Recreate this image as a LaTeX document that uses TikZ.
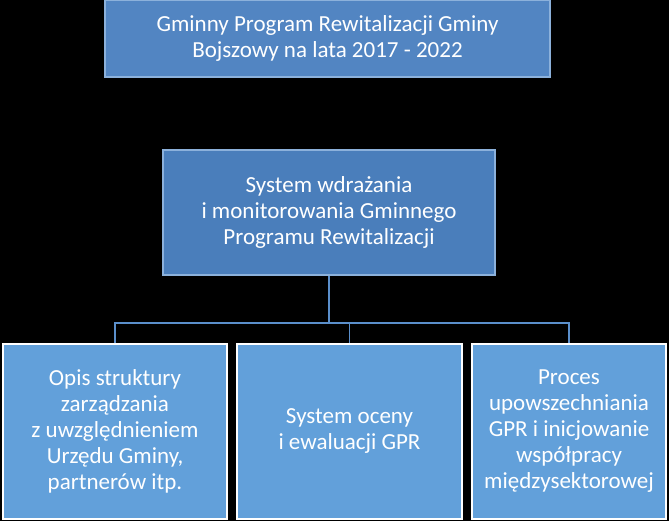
\documentclass[tikz,border=0pt]{standalone}
\usepackage{fontspec}
\setmainfont{Carlito}
\definecolor{topc}{HTML}{5285C2}
\definecolor{midc}{HTML}{4A7EBB}
\definecolor{botc}{HTML}{62A0DA}
\definecolor{linec}{HTML}{5B8FCB}
\newcommand{\bigf}{\fontsize{23bp}{26bp}\selectfont}
\begin{document}
\begin{tikzpicture}[x=1bp,y=-1bp,
  box/.style={draw, line width=1.5bp, text=white, align=center, font=\bigf, inner sep=0pt},
  conn/.style={draw=linec, line width=1.5bp}]
\fill[black] (0,0) rectangle (669,521);
\useasboundingbox (0,0) rectangle (669,521);
\node[box, fill=topc, draw=linec!70!white, minimum width=445bp, minimum height=77bp] (a) at (327.5,38.5) {\bigf Gminny Program Rewitalizacji Gminy\\\bigf Bojszowy na lata 2017 - 2022};
\node[box, fill=midc, draw=linec!70!white, minimum width=332bp, minimum height=125bp] (b) at (329,212.5) {\bigf System wdrażania\\\bigf i monitorowania Gminnego\\\bigf Programu Rewitalizacji};
\node[box, fill=botc, draw=white, minimum width=224bp, minimum height=175bp] (c1) at (115,431.5) {\bigf Opis struktury\\\bigf zarządzania\\\bigf z uwzględnieniem\\\bigf Urzędu Gminy,\\\bigf partnerów itp.};
\node[box, fill=botc, draw=white, minimum width=225bp, minimum height=175bp] (c2) at (349.5,431.5) {\bigf System oceny\\\bigf i ewaluacji GPR};
\node[box, fill=botc, draw=white, minimum width=194bp, minimum height=175bp] (c3) at (569,431.5) {\bigf Proces\\\bigf upowszechniania\\\bigf GPR i inicjowanie\\\bigf współpracy\\\bigf międzysektorowej};
\coordinate (j) at (329,323);
\draw[conn] (b.south) -- (j);
\draw[conn] (c1.north) -- (c1.north |- j) -- (c3.north |- j) -- (c3.north);
\draw[conn] (c2.north |- j) -- (c2.north);
\end{tikzpicture}
\end{document}
